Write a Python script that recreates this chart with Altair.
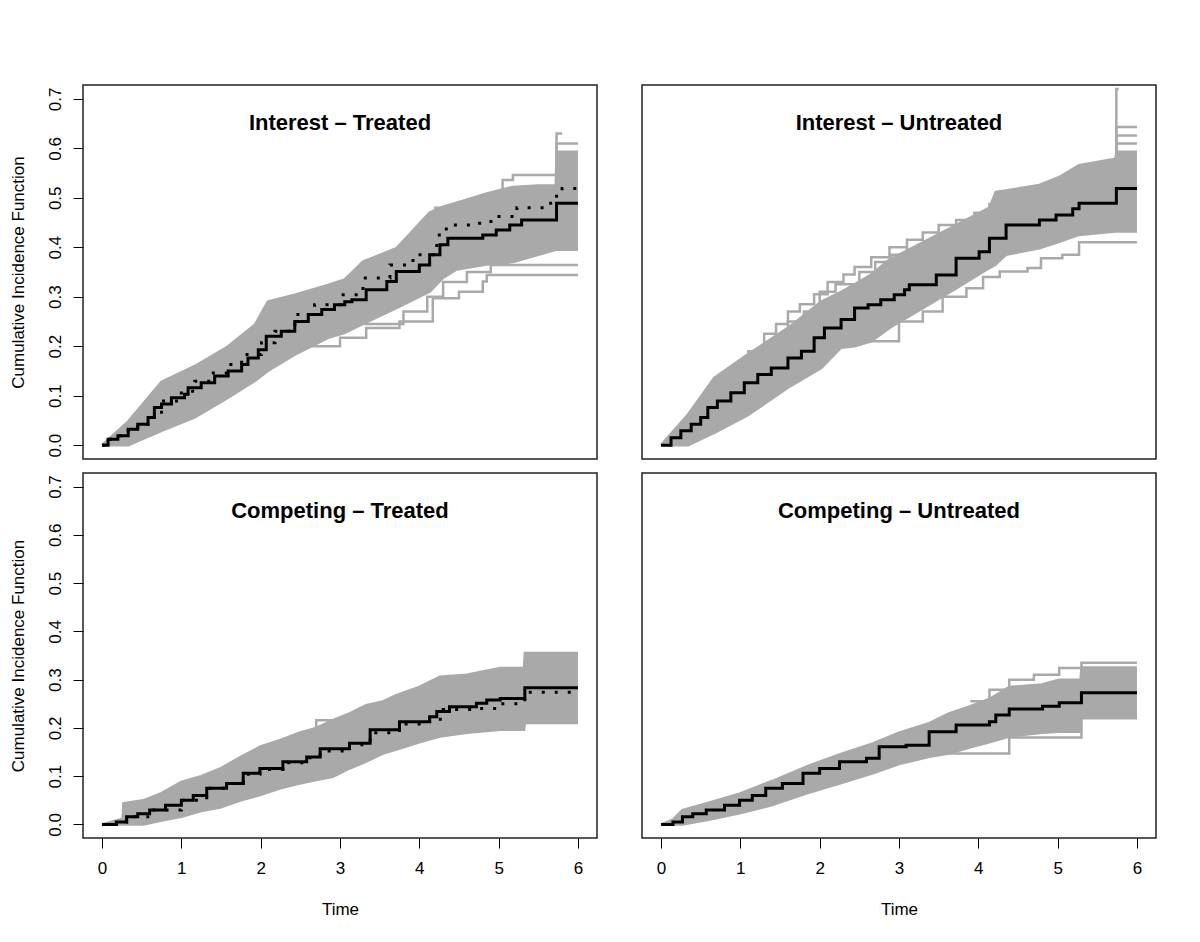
import altair as alt
import pandas as pd

GRAY = "#A9A9A9"
FONT = "Liberation Sans"

# ---------------- Interest - Treated ----------------
tl_main_t = [0, 0.076, 0.2, 0.33, 0.45, 0.58, 0.66, 0.75, 0.875, 1.04, 1.085, 1.25, 1.42, 1.59, 1.76, 1.84, 1.97,
             2.07, 2.26, 2.43, 2.6, 2.77, 2.93, 3.06, 3.15, 3.33, 3.59, 3.71, 4.0, 4.13, 4.26, 4.36, 4.8, 4.97,
             5.14, 5.29, 5.73, 6.0]
tl_main_v = [0, 0.012, 0.019, 0.032, 0.042, 0.056, 0.076, 0.083, 0.096, 0.103, 0.116, 0.126, 0.14, 0.15, 0.163,
             0.176, 0.193, 0.22, 0.23, 0.25, 0.264, 0.274, 0.284, 0.29, 0.294, 0.314, 0.331, 0.351, 0.364, 0.385,
             0.405, 0.418, 0.425, 0.435, 0.445, 0.455, 0.489, 0.489]
tl_dot_t = [0, 0.076, 0.2, 0.33, 0.45, 0.58, 0.75, 1.0, 1.17, 1.38, 1.59, 1.76, 2.01, 2.18, 2.43, 2.68, 3.02, 3.29,
            3.63, 3.92, 4.22, 4.34, 4.76, 4.97, 5.23, 5.6, 5.73, 5.8, 6.0]
tl_dot_v = [0, 0.012, 0.019, 0.032, 0.042, 0.056, 0.089, 0.109, 0.129, 0.146, 0.163, 0.183, 0.207, 0.23, 0.264,
            0.284, 0.304, 0.338, 0.364, 0.385, 0.425, 0.445, 0.452, 0.462, 0.48, 0.489, 0.509, 0.519, 0.519]
tl_band_t = [0, 0.33, 0.75, 1.17, 1.59, 1.93, 2.09, 2.43, 2.85, 3.06, 3.29, 3.71, 4.13, 4.3, 4.47, 4.85, 5.18, 5.5,
             5.72, 5.73, 6.0]
tl_band_hi = [0, 0.048, 0.128, 0.16, 0.2, 0.244, 0.29, 0.304, 0.324, 0.335, 0.371, 0.398, 0.47, 0.482, 0.49, 0.509,
              0.522, 0.525, 0.525, 0.593, 0.593]
tl_band_lo = [0, 0, 0.029, 0.056, 0.096, 0.13, 0.15, 0.183, 0.217, 0.227, 0.245, 0.277, 0.31, 0.338, 0.355, 0.365,
              0.37, 0.385, 0.395, 0.395, 0.395]
tl_out = [
    ([3.9, 4.2, 4.83, 5.05, 5.18, 5.73, 6.0], [0.42, 0.48, 0.5, 0.536, 0.546, 0.61, 0.61]),
    ([5.0, 5.73, 5.8], [0.5, 0.63, 0.63]),
    ([2.5, 3.0, 3.33, 3.75, 4.17, 4.5, 4.8, 4.85, 6.0], [0.2, 0.217, 0.237, 0.25, 0.297, 0.31, 0.331, 0.344, 0.344]),
    ([3.3, 3.8, 4.1, 4.3, 4.6, 4.9, 6.0], [0.245, 0.27, 0.3, 0.33, 0.35, 0.364, 0.364]),
]

# ---------------- Interest - Untreated ----------------
tr_main_t = [0, 0.126, 0.25, 0.38, 0.5, 0.59, 0.71, 0.88, 1.05, 1.22, 1.39, 1.6, 1.77, 1.93, 2.06, 2.27, 2.44, 2.61,
             2.77, 2.94, 3.07, 3.13, 3.47, 3.72, 4.01, 4.14, 4.35, 4.77, 4.98, 5.19, 5.27, 5.74, 6.0]
tr_main_v = [0, 0.015, 0.029, 0.042, 0.056, 0.076, 0.089, 0.106, 0.126, 0.143, 0.156, 0.176, 0.19, 0.217, 0.237,
             0.254, 0.277, 0.284, 0.294, 0.304, 0.314, 0.324, 0.344, 0.378, 0.391, 0.418, 0.445, 0.455, 0.465, 0.478,
             0.489, 0.519, 0.519]
tr_band_t = [0, 0.34, 0.67, 1.09, 1.6, 2.02, 2.27, 2.44, 2.65, 2.88, 3.3, 3.72, 4.14, 4.22, 4.35, 4.77, 5.02, 5.27,
             5.73, 5.74, 6.0]
tr_band_hi = [0, 0.062, 0.136, 0.183, 0.237, 0.29, 0.31, 0.325, 0.345, 0.375, 0.41, 0.445, 0.48, 0.512, 0.515, 0.526,
              0.542, 0.566, 0.579, 0.593, 0.593]
tr_band_lo = [0, 0, 0.025, 0.06, 0.116, 0.156, 0.197, 0.2, 0.21, 0.237, 0.277, 0.317, 0.358, 0.365, 0.385, 0.398,
              0.411, 0.425, 0.432, 0.432, 0.432]
tr_out = [
    ([0.9, 1.1, 1.3, 1.45, 1.6, 1.75, 1.93, 2.1, 2.3, 2.44, 2.65, 2.88, 3.1, 3.3, 3.5, 3.72, 3.95, 4.14],
     [0.16, 0.19, 0.225, 0.245, 0.27, 0.285, 0.305, 0.33, 0.345, 0.36, 0.38, 0.4, 0.415, 0.43, 0.445, 0.455, 0.47,
      0.49]),
    ([1.0, 1.2, 1.4, 1.6, 1.8, 2.0, 2.2, 2.5, 2.7, 2.9, 3.1], [0.15, 0.185, 0.21, 0.25, 0.27, 0.31, 0.325, 0.35, 0.37,
                                                            0.385, 0.4]),
    ([2.5, 3.0, 3.3, 3.55, 3.85, 4.06, 4.27, 4.62, 4.79, 5.06, 5.27, 6.0],
     [0.21, 0.25, 0.27, 0.3, 0.317, 0.34, 0.351, 0.358, 0.378, 0.385, 0.41, 0.41]),
    ([5.5, 5.74, 6.0], [0.56, 0.643, 0.643]),
    ([5.5, 5.74, 6.0], [0.56, 0.626, 0.626]),
    ([5.5, 5.74, 6.0], [0.56, 0.61, 0.61]),
    ([5.5, 5.74, 5.77], [0.56, 0.72, 0.72]),
]

# ---------------- Competing - Treated ----------------
bl_main_t = [0, 0.18, 0.31, 0.45, 0.6, 0.8, 1.0, 1.15, 1.32, 1.57, 1.78, 1.99, 2.28, 2.58, 2.75, 3.12, 3.38, 3.75,
             4.13, 4.22, 4.38, 4.72, 4.85, 5.02, 5.33, 6.0]
bl_main_v = [0, 0.005, 0.016, 0.022, 0.03, 0.04, 0.05, 0.06, 0.075, 0.085, 0.106, 0.116, 0.13, 0.14, 0.157, 0.168,
             0.196, 0.213, 0.223, 0.234, 0.244, 0.251, 0.258, 0.261, 0.283, 0.283]
bl_dot_t = [0, 0.18, 0.31, 0.6, 1.0, 1.32, 1.57, 1.78, 1.99, 2.28, 2.58, 2.75, 3.12, 3.38, 3.75, 4.13, 4.3, 4.72,
            5.02, 5.33, 6.0]
bl_dot_v = [0, 0.005, 0.016, 0.03, 0.05, 0.075, 0.085, 0.104, 0.114, 0.128, 0.138, 0.152, 0.165, 0.19, 0.208, 0.218,
            0.238, 0.24, 0.25, 0.274, 0.274]
bl_band_t = [0, 0.26, 0.27, 0.52, 0.75, 1.0, 1.25, 1.49, 1.75, 1.99, 2.25, 2.49, 2.7, 2.91, 3.12, 3.33, 3.54, 3.71,
             4.0, 4.26, 4.6, 5.02, 5.32, 5.33, 6.0]
bl_band_hi = [0, 0.012, 0.044, 0.05, 0.065, 0.088, 0.1, 0.116, 0.14, 0.161, 0.175, 0.19, 0.2, 0.216, 0.23, 0.247,
              0.255, 0.268, 0.285, 0.306, 0.31, 0.324, 0.324, 0.355, 0.355]
bl_band_lo = [0, 0, 0, 0, 0.008, 0.016, 0.028, 0.035, 0.05, 0.061, 0.075, 0.085, 0.092, 0.099, 0.116, 0.13, 0.147,
              0.155, 0.17, 0.182, 0.19, 0.196, 0.196, 0.21, 0.21]
bl_out = [
    ([2.5, 2.7, 3.0, 3.3], [0.19, 0.216, 0.22, 0.24]),
]

# ---------------- Competing - Untreated ----------------
br_main_t = [0, 0.15, 0.27, 0.4, 0.57, 0.8, 0.99, 1.15, 1.32, 1.53, 1.79, 2.0, 2.25, 2.59, 2.75, 3.09, 3.38, 3.72,
             4.14, 4.22, 4.39, 4.81, 5.02, 5.3, 6.0]
br_main_v = [0, 0.005, 0.016, 0.022, 0.03, 0.04, 0.05, 0.06, 0.075, 0.085, 0.106, 0.116, 0.13, 0.137, 0.161, 0.164,
             0.192, 0.206, 0.213, 0.227, 0.239, 0.245, 0.252, 0.273, 0.273]
br_band_t = [0, 0.15, 0.27, 0.6, 0.99, 1.4, 1.83, 2.25, 2.67, 3.0, 3.38, 3.63, 3.9, 4.14, 4.39, 4.8, 5.02, 5.29,
             5.3, 6.0]
br_band_hi = [0, 0.01, 0.03, 0.045, 0.064, 0.09, 0.12, 0.145, 0.168, 0.19, 0.21, 0.23, 0.245, 0.26, 0.285, 0.29,
              0.3, 0.3, 0.325, 0.325]
br_band_lo = [0, 0, 0, 0.01, 0.023, 0.04, 0.064, 0.085, 0.106, 0.125, 0.14, 0.147, 0.16, 0.17, 0.182, 0.19, 0.192,
              0.192, 0.225, 0.225]
br_out = [
    ([3.9, 4.14, 4.39, 4.7, 5.02, 5.3, 6.0], [0.255, 0.279, 0.3, 0.31, 0.324, 0.335, 0.335]),
    ([3.63, 4.39, 5.3, 6.0], [0.147, 0.18, 0.22, 0.22]),
]

x_ticks = [0, 1, 2, 3, 4, 5, 6]
y_ticks = [0.0, 0.1, 0.2, 0.3, 0.4, 0.5, 0.6, 0.7]

W = 514
FS = 17


def panel(title, main, band, dotted, outs, height, show_x, show_y):
    xaxis = alt.Axis(values=x_ticks, format="d", tickSize=10, tickColor="black", tickWidth=1, domain=False,
                     grid=False, labelFontSize=FS, labelFont=FONT, labelColor="black", labelPadding=12,
                     title="Time", titleFont=FONT, titleFontSize=FS, titleFontWeight="normal",
                     titleColor="black", titlePadding=25) if show_x else None
    yaxis = alt.Axis(values=y_ticks, format=".1f", tickSize=10, tickColor="black", tickWidth=1, domain=False,
                     grid=False, labelFontSize=FS, labelFont=FONT, labelColor="black", labelAngle=270,
                     labelAlign="center", labelBaseline="bottom", labelPadding=9,
                     title="Cumulative Incidence Function", titleFont=FONT, titleFontSize=FS,
                     titleFontWeight="normal", titleColor="black", titlePadding=19) if show_y else None
    xs = alt.Scale(domain=[-0.24, 6.24], nice=False, zero=False)
    ys = alt.Scale(domain=[-0.028, 0.728], nice=False, zero=False)

    bdf = pd.DataFrame({"t": band[0], "lo": band[1], "hi": band[2]})
    area = alt.Chart(bdf).mark_area(interpolate="linear", color=GRAY, opacity=1, clip=True).encode(
        x=alt.X("t:Q", scale=xs, axis=xaxis),
        y=alt.Y("lo:Q", scale=ys, axis=yaxis),
        y2="hi:Q",
    )
    edge_rows = []
    for t, lo, hi in zip(band[0], band[1], band[2]):
        edge_rows.append({"t": t, "v": lo, "id": "lo"})
        edge_rows.append({"t": t, "v": hi, "id": "hi"})
    edges = alt.Chart(pd.DataFrame(edge_rows)).mark_line(
        interpolate="linear", color=GRAY, strokeWidth=2.5, clip=True
    ).encode(x=alt.X("t:Q", scale=xs), y=alt.Y("v:Q", scale=ys), detail="id:N", order="t:Q")

    out_rows = []
    for i, (ts, vs) in enumerate(outs):
        for t, v in zip(ts, vs):
            out_rows.append({"t": t, "v": v, "id": f"o{i}"})
    outl = alt.Chart(pd.DataFrame(out_rows)).mark_line(
        interpolate="step-after", color=GRAY, strokeWidth=2.5, clip=True
    ).encode(x=alt.X("t:Q", scale=xs), y=alt.Y("v:Q", scale=ys), detail="id:N", order="t:Q")

    layers = [area, edges, outl]
    if dotted is not None:
        ddf = pd.DataFrame({"t": dotted[0], "v": dotted[1]})
        layers.append(alt.Chart(ddf).mark_line(
            interpolate="step-after", color="black", strokeWidth=3, strokeDash=[3, 10], clip=True
        ).encode(x=alt.X("t:Q", scale=xs), y=alt.Y("v:Q", scale=ys)))
    mdf = pd.DataFrame({"t": main[0], "v": main[1]})
    layers.append(alt.Chart(mdf).mark_line(
        interpolate="step-after", color="black", strokeWidth=3, clip=True
    ).encode(x=alt.X("t:Q", scale=xs), y=alt.Y("v:Q", scale=ys)))
    layers.append(alt.Chart(pd.DataFrame({"label": [title]})).mark_text(
        font=FONT, fontSize=22, fontWeight="bold", color="black", baseline="middle", align="center"
    ).encode(text="label:N", x=alt.value(W / 2), y=alt.value(38)))
    return alt.layer(*layers).properties(width=W, height=height)


tl = panel("Interest – Treated", (tl_main_t, tl_main_v), (tl_band_t, tl_band_lo, tl_band_hi),
           (tl_dot_t, tl_dot_v), tl_out, 374, False, True)
tr = panel("Interest – Untreated", (tr_main_t, tr_main_v), (tr_band_t, tr_band_lo, tr_band_hi),
           None, tr_out, 374, False, False)
bl = panel("Competing – Treated", (bl_main_t, bl_main_v), (bl_band_t, bl_band_lo, bl_band_hi),
           (bl_dot_t, bl_dot_v), bl_out, 365, True, True)
br = panel("Competing – Untreated", (br_main_t, br_main_v), (br_band_t, br_band_lo, br_band_hi),
           None, br_out, 365, True, False)

chart = alt.vconcat(
    alt.hconcat(tl, tr, spacing=43),
    alt.hconcat(bl, br, spacing=43),
    spacing=12,
).properties(
    padding={"left": 0, "top": 76, "right": 10, "bottom": 10}
).configure(
    background="white"
).configure_view(
    stroke="#222222", strokeWidth=1.5
)

chart.save("out.html", embed_options={"renderer": "svg", "actions": False})
